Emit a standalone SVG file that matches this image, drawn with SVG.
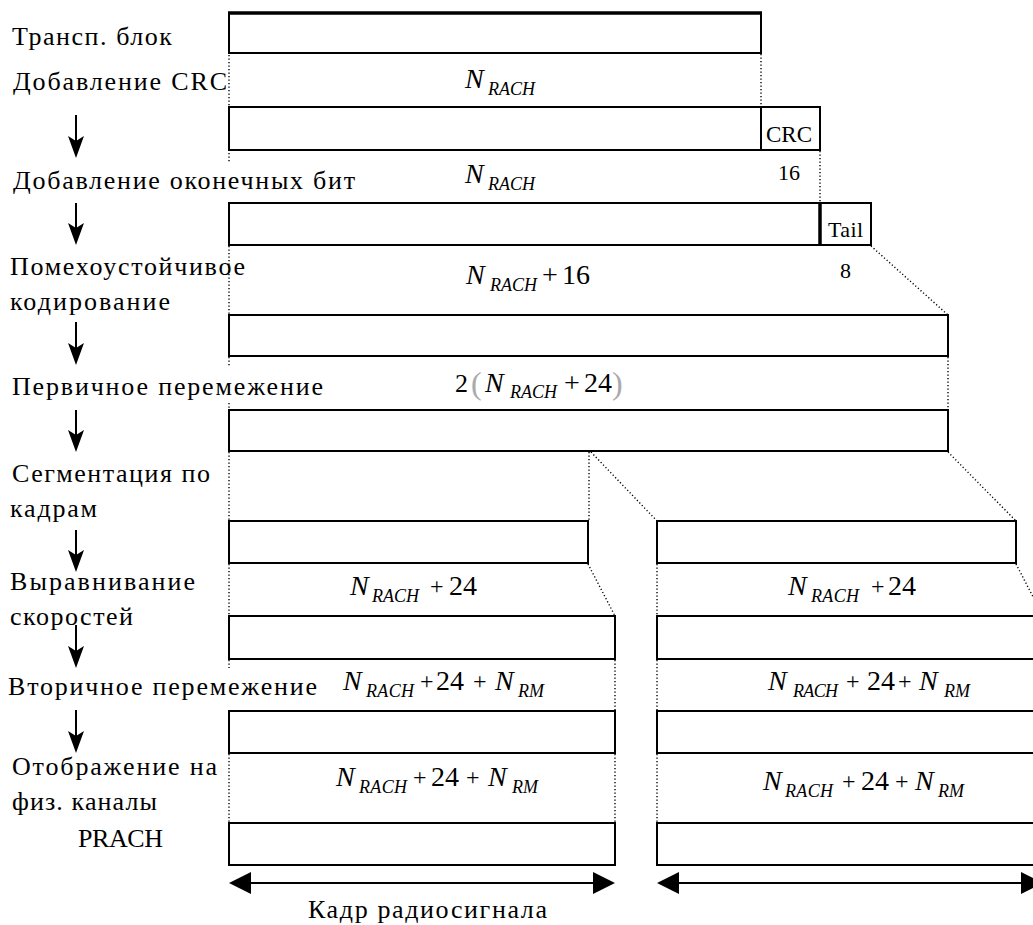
<svg xmlns="http://www.w3.org/2000/svg" width="1033" height="925" viewBox="0 0 1033 925">
<style>
.bx{fill:#fff;stroke:#000;stroke-width:2}
.dot{fill:none;stroke:#000;stroke-width:1.4;stroke-dasharray:1.2 2.3}
text{font-family:"Liberation Serif","Times New Roman","DejaVu Serif",serif;fill:#000}
.lbl{font-size:26px}
.sm{font-size:22px}
.m{font-size:28px}
.pl{font-size:24px}
.mi{font-size:28px;font-style:italic}
.sb{font-size:18px;font-style:italic}
.par{font-size:32px;fill:#aaa}
.ln{stroke:#000;stroke-width:2;fill:none}
</style>
<defs>
<path id="dh" d="M0,0 L-8,-22 L0,-17 L8,-22 Z" fill="#000"/>
</defs>

<g id="connectors">
  <g id="dotted">
    <line class="dot" x1="229" y1="55" x2="229" y2="162"/>
    <line class="dot" x1="761" y1="54" x2="761" y2="107"/>
    <line class="dot" x1="820" y1="151" x2="820" y2="203"/>
    <line class="dot" x1="229" y1="246" x2="229" y2="315"/>
    <line class="dot" x1="871" y1="246" x2="948" y2="315"/>
    <line class="dot" x1="229" y1="357" x2="229" y2="367"/>
    <line class="dot" x1="229" y1="403" x2="229" y2="410"/>
    <line class="dot" x1="948" y1="357" x2="948" y2="410"/>
    <line class="dot" x1="229" y1="452" x2="229" y2="521"/>
    <line class="dot" x1="589" y1="452" x2="589" y2="521"/>
    <line class="dot" x1="591" y1="452" x2="657" y2="521"/>
    <line class="dot" x1="948" y1="452" x2="1016" y2="521"/>
    <line class="dot" x1="229" y1="564" x2="229" y2="616"/>
    <line class="dot" x1="588" y1="564" x2="615" y2="616"/>
    <line class="dot" x1="657" y1="564" x2="657" y2="616"/>
    <line class="dot" x1="1016" y1="564" x2="1043" y2="616"/>
    <line class="dot" x1="229" y1="660" x2="229" y2="668"/>
    <line class="dot" x1="615" y1="660" x2="615" y2="711"/>
    <line class="dot" x1="657" y1="660" x2="657" y2="711"/>
    <line class="dot" x1="229" y1="754" x2="229" y2="823"/>
    <line class="dot" x1="615" y1="754" x2="615" y2="823"/>
    <line class="dot" x1="657" y1="754" x2="657" y2="823"/>
  </g>
  <g id="step-arrows">
    <line class="ln" x1="76" y1="115" x2="76" y2="146"/><use href="#dh" x="76" y="158"/>
    <line class="ln" x1="76" y1="203" x2="76" y2="233"/><use href="#dh" x="76" y="245"/>
    <line class="ln" x1="76" y1="322" x2="76" y2="353"/><use href="#dh" x="76" y="365"/>
    <line class="ln" x1="76" y1="410" x2="76" y2="440"/><use href="#dh" x="76" y="452"/>
    <line class="ln" x1="76" y1="530" x2="76" y2="560"/><use href="#dh" x="76" y="572"/>
    <line class="ln" x1="76" y1="625" x2="76" y2="656"/><use href="#dh" x="76" y="668"/>
    <line class="ln" x1="76" y1="710" x2="76" y2="741"/><use href="#dh" x="76" y="753"/>
  </g>
  <g id="frame-arrows">
    <line class="ln" x1="245" y1="883" x2="600" y2="883"/>
    <path d="M229,883 L251,872 L251,894 Z" fill="#000"/>
    <path d="M615,883 L593,872 L593,894 Z" fill="#000"/>
    <line class="ln" x1="673" y1="883" x2="1030" y2="883"/>
    <path d="M657,883 L679,872 L679,894 Z" fill="#000"/>
    <path d="M1043,883 L1021,872 L1021,894 Z" fill="#000"/>
  </g>
</g>

<g id="row1">
  <rect class="bx" x="229" y="13" width="532" height="40"/>
  <line x1="228" y1="13" x2="762" y2="13" stroke="#000" stroke-width="3.5"/>
</g>
<g id="row2">
  <rect class="bx" x="229" y="107" width="532" height="43"/>
  <rect class="bx" x="761" y="107" width="59" height="43"/>
  <text class="sm" x="766" y="142" style="font-size:23px" textLength="46">CRC</text>
</g>
<g id="row3">
  <rect class="bx" x="229" y="203" width="591" height="42"/>
  <rect class="bx" x="820" y="203" width="51" height="42"/>
  <line x1="820" y1="203" x2="820" y2="245" stroke="#000" stroke-width="3.5"/>
  <text class="sm" x="828" y="237" textLength="35">Tail</text>
</g>
<g id="row4"><rect class="bx" x="229" y="315" width="719" height="41"/></g>
<g id="row5"><rect class="bx" x="229" y="410" width="719" height="41"/></g>
<g id="row6">
  <rect class="bx" x="229" y="521" width="359" height="42"/>
  <rect class="bx" x="657" y="521" width="359" height="42"/>
</g>
<g id="row7">
  <rect class="bx" x="229" y="616" width="386" height="43"/>
  <rect class="bx" x="657" y="616" width="400" height="43"/>
</g>
<g id="row8">
  <rect class="bx" x="229" y="711" width="386" height="42"/>
  <rect class="bx" x="657" y="711" width="400" height="42"/>
</g>
<g id="row9">
  <rect class="bx" x="229" y="823" width="386" height="42"/>
  <rect class="bx" x="657" y="823" width="400" height="42"/>
</g>

<g id="step-labels">
  <text class="lbl" x="12" y="45" textLength="160">Трансп. блок</text>
  <text class="lbl" x="13" y="90" textLength="214">Добавление CRC</text>
  <text class="lbl" x="13" y="189" textLength="342">Добавление оконечных бит</text>
  <text class="lbl" x="10" y="275" textLength="235">Помехоустойчивое</text>
  <text class="lbl" x="10" y="310" textLength="160">кодирование</text>
  <text class="lbl" x="12" y="395" textLength="311">Первичное перемежение</text>
  <text class="lbl" x="12" y="482" textLength="198">Сегментация по</text>
  <text class="lbl" x="10" y="517" textLength="87">кадрам</text>
  <text class="lbl" x="10" y="590" textLength="185">Выравнивание</text>
  <text class="lbl" x="10" y="625" textLength="123">скоростей</text>
  <text class="lbl" x="8" y="695" textLength="309">Вторичное перемежение</text>
  <text class="lbl" x="12" y="775" textLength="205">Отображение на</text>
  <text class="lbl" x="12" y="810" textLength="145">физ. каналы</text>
  <text class="lbl" x="78" y="847" textLength="85">PRACH</text>
  <text class="lbl" x="308" y="918" textLength="239">Кадр радиосигнала</text>
</g>

<g id="size-labels">
  <text class="mi" x="465" y="88">N</text><text class="sb" x="488" y="95" textLength="47">RACH</text>
  <text class="mi" x="465" y="183">N</text><text class="sb" x="488" y="190" textLength="47">RACH</text>
  <text class="sm" x="778" y="180">16</text>
  <text class="mi" x="466" y="284">N</text><text class="sb" x="490" y="291" textLength="47">RACH</text>
  <text class="m" x="542" y="284">+</text><text class="m" x="562" y="284">16</text>
  <text class="sm" x="840" y="278">8</text>

  <text class="m" x="455" y="392" style="font-size:26px">2</text>
  <text class="par" x="471" y="394">(</text>
  <text class="mi" x="485" y="392">N</text><text class="sb" x="510" y="398" textLength="47">RACH</text>
  <text class="m" x="564" y="392">+</text><text class="m" x="584" y="392">24</text>
  <text class="par" x="612" y="394">)</text>

  <text class="mi" x="350" y="595">N</text><text class="sb" x="372" y="602" textLength="47">RACH</text>
  <text class="pl" x="430" y="594">+</text><text class="m" x="449" y="595">24</text>
  <text class="mi" x="788" y="595">N</text><text class="sb" x="811" y="602" textLength="48">RACH</text>
  <text class="pl" x="871" y="594">+</text><text class="m" x="888" y="595">24</text>

  <text class="mi" x="343" y="690">N</text><text class="sb" x="366" y="697" textLength="48">RACH</text>
  <text class="pl" x="420" y="689">+</text><text class="m" x="436" y="690">24</text>
  <text class="pl" x="473" y="689">+</text>
  <text class="mi" x="495" y="690">N</text><text class="sb" x="518" y="697" textLength="26">RM</text>
  <text class="mi" x="768" y="690">N</text><text class="sb" x="793" y="697" textLength="45">RACH</text>
  <text class="pl" x="846" y="689">+</text><text class="m" x="867" y="690">24</text>
  <text class="pl" x="898" y="689">+</text>
  <text class="mi" x="919" y="690">N</text><text class="sb" x="944" y="697" textLength="26">RM</text>

  <text class="mi" x="336" y="786">N</text><text class="sb" x="359" y="793" textLength="48">RACH</text>
  <text class="pl" x="413" y="785">+</text><text class="m" x="431" y="786">24</text>
  <text class="pl" x="466" y="785">+</text>
  <text class="mi" x="488" y="786">N</text><text class="sb" x="512" y="793" textLength="26">RM</text>
  <text class="mi" x="763" y="790">N</text><text class="sb" x="785" y="797" textLength="48">RACH</text>
  <text class="pl" x="842" y="789">+</text><text class="m" x="861" y="790">24</text>
  <text class="pl" x="895" y="789">+</text>
  <text class="mi" x="915" y="790">N</text><text class="sb" x="938" y="797" textLength="26">RM</text>
</g>
</svg>
